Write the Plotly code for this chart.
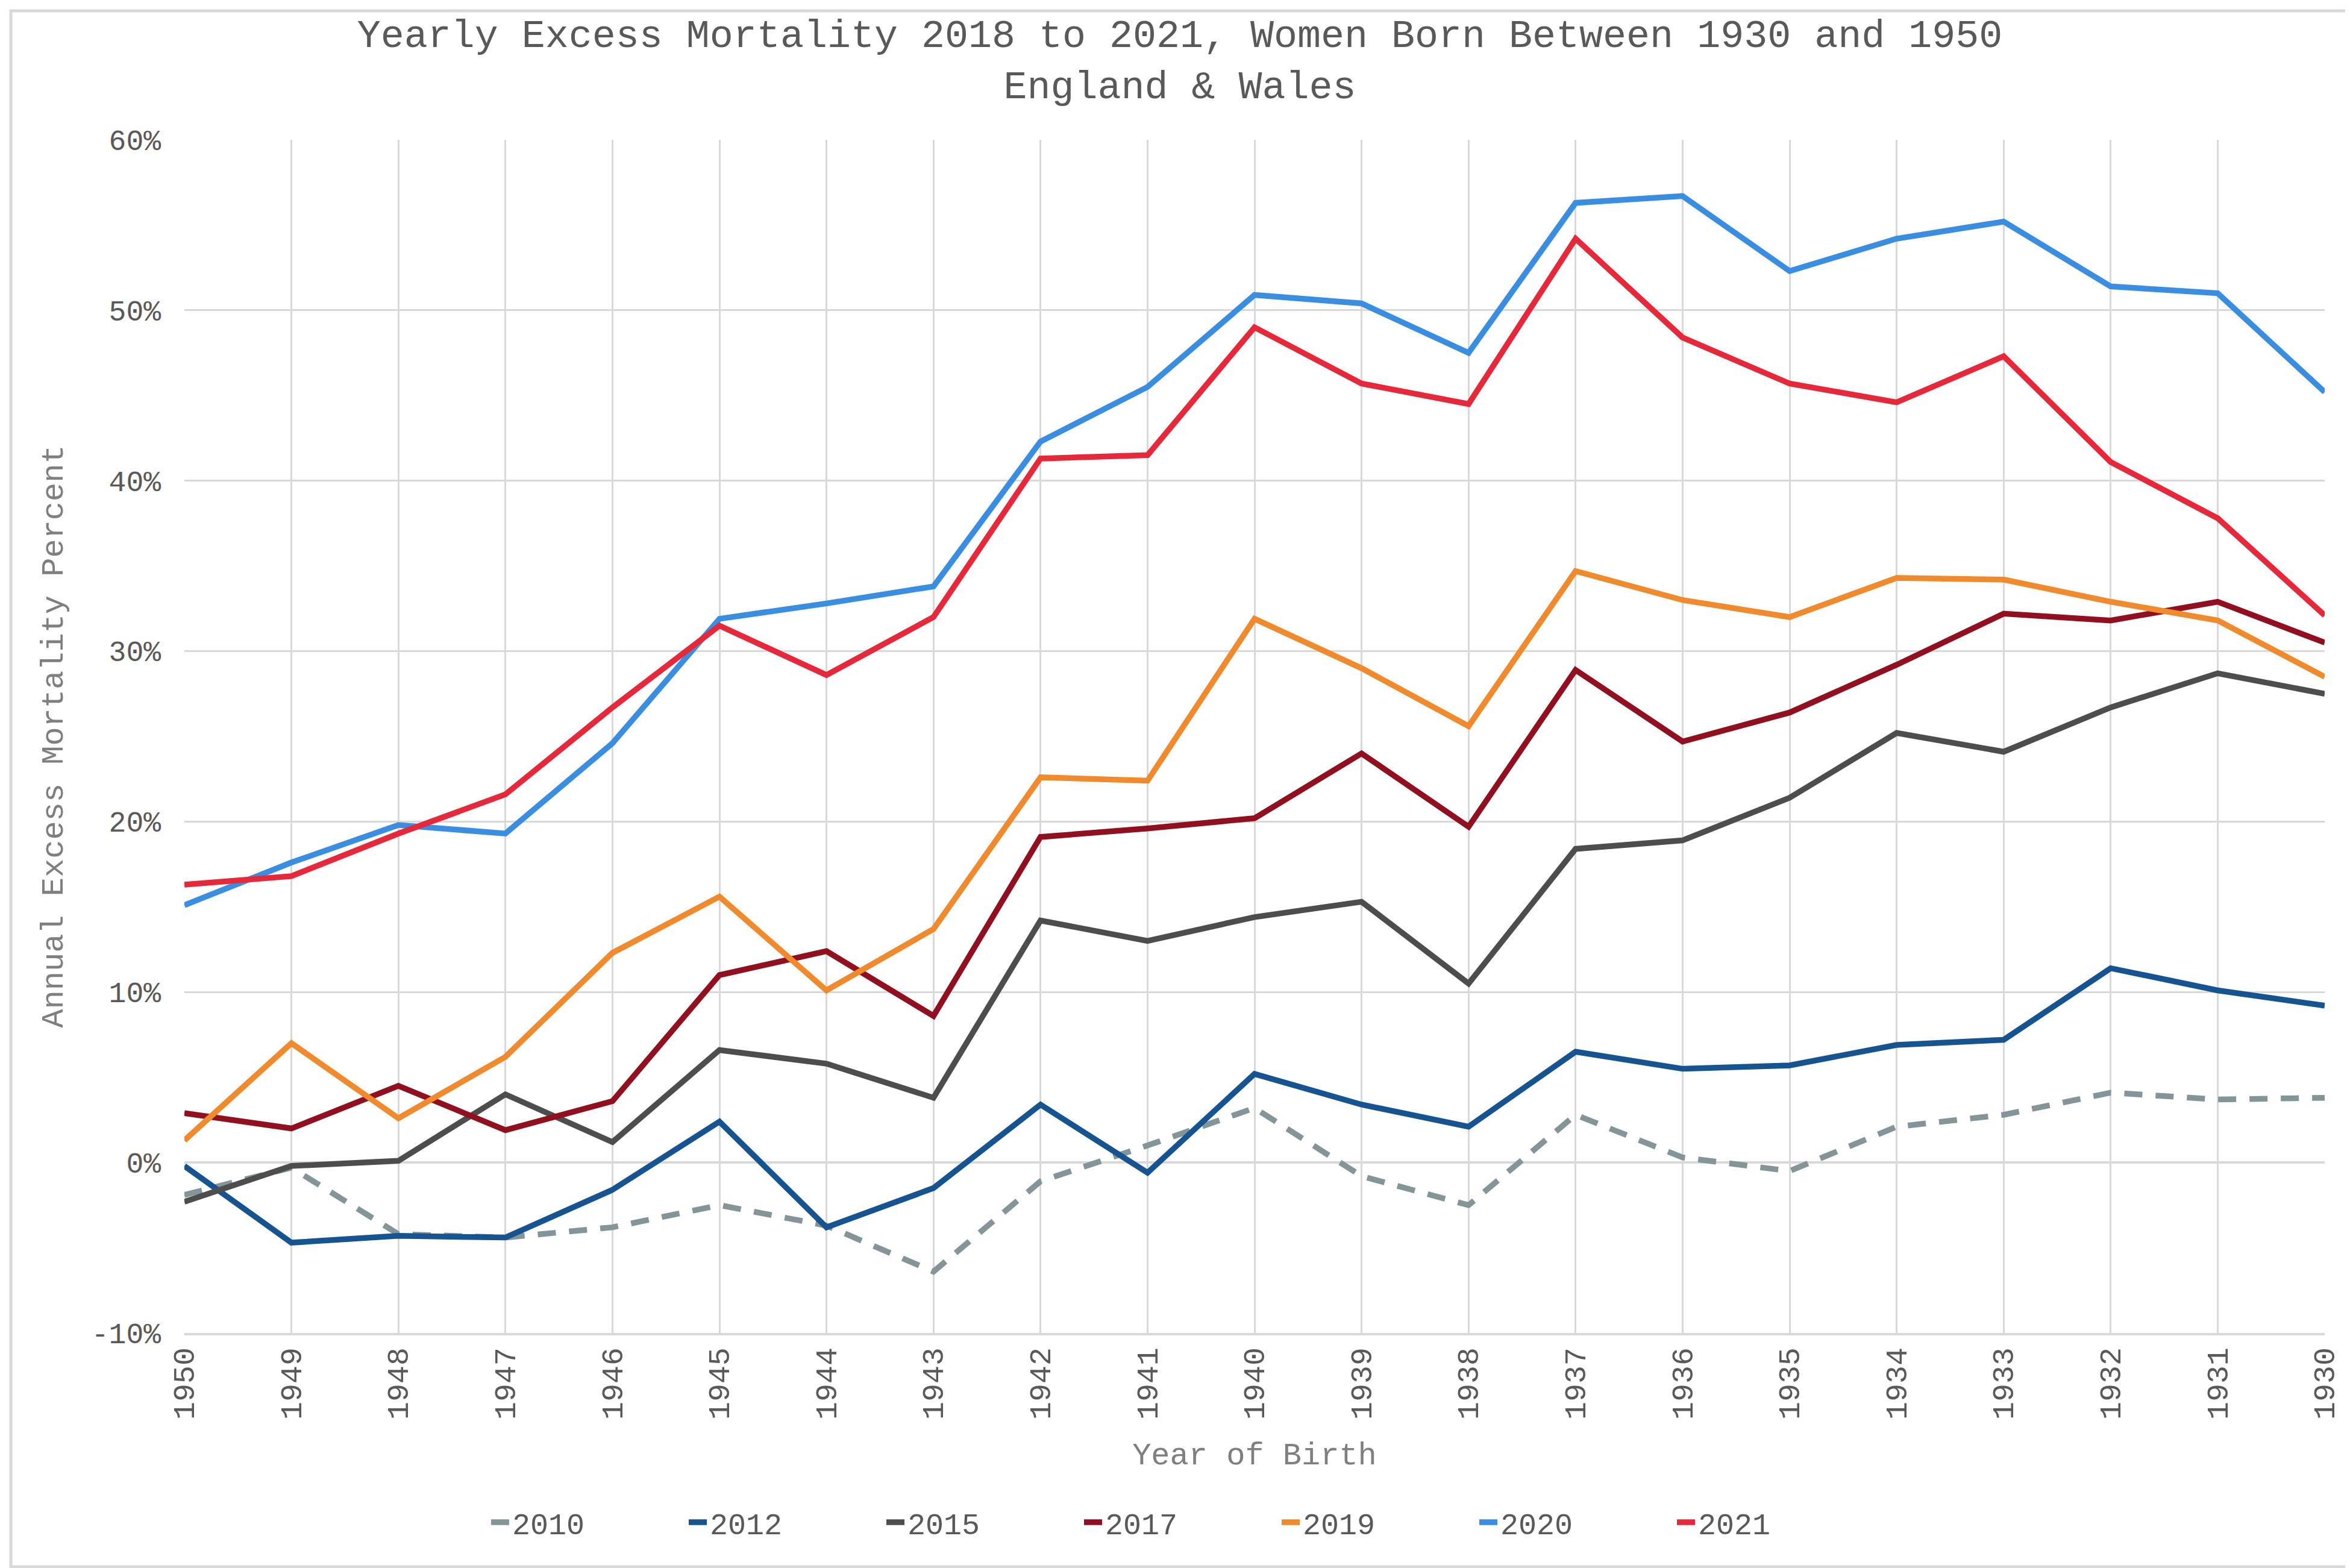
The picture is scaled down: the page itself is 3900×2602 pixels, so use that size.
import plotly.graph_objects as go

birth_years = ["1950", "1949", "1948", "1947", "1946", "1945", "1944", "1943", "1942", "1941",
               "1940", "1939", "1938", "1937", "1936", "1935", "1934", "1933", "1932", "1931", "1930"]

s2010 = [-1.9, -0.3, -4.2, -4.4, -3.8, -2.5, -3.7, -6.4, -1.1, 1.0, 3.2, -0.8, -2.5, 2.8, 0.3, -0.5, 2.1, 2.8, 4.1, 3.7, 3.8]
s2012 = [-0.2, -4.7, -4.3, -4.4, -1.6, 2.4, -3.8, -1.5, 3.4, -0.6, 5.2, 3.4, 2.1, 6.5, 5.5, 5.7, 6.9, 7.2, 11.4, 10.1, 9.2]
s2015 = [-2.3, -0.2, 0.1, 4.0, 1.2, 6.6, 5.8, 3.8, 14.2, 13.0, 14.4, 15.3, 10.5, 18.4, 18.9, 21.4, 25.2, 24.1, 26.7, 28.7, 27.5]
s2017 = [2.9, 2.0, 4.5, 1.9, 3.6, 11.0, 12.4, 8.6, 19.1, 19.6, 20.2, 24.0, 19.7, 28.9, 24.7, 26.4, 29.2, 32.2, 31.8, 32.9, 30.5]
s2019 = [1.3, 7.0, 2.6, 6.2, 12.3, 15.6, 10.1, 13.7, 22.6, 22.4, 31.9, 29.0, 25.6, 34.7, 33.0, 32.0, 34.3, 34.2, 32.9, 31.8, 28.5]
s2020 = [15.1, 17.6, 19.8, 19.3, 24.6, 31.9, 32.8, 33.8, 42.3, 45.5, 50.9, 50.4, 47.5, 56.3, 56.7, 52.3, 54.2, 55.2, 51.4, 51.0, 45.2]
s2021 = [16.3, 16.8, 19.3, 21.6, 26.7, 31.5, 28.6, 32.0, 41.3, 41.5, 49.0, 45.7, 44.5, 54.2, 48.4, 45.7, 44.6, 47.3, 41.1, 37.8, 32.1]

series_names = ["2010", "2012", "2015", "2017", "2019", "2020", "2021"]
series_values = [s2010, s2012, s2015, s2017, s2019, s2020, s2021]
series_colors = ["#84959A", "#155391", "#4D4D4D", "#910F1F", "#F08A2C", "#3A8EE2", "#E6283A"]

y_ticks = [-10, 0, 10, 20, 30, 40, 50, 60]
y_ticktext = ["-10%", "0%", "10%", "20%", "30%", "40%", "50%", "60%"]

FONT = "Liberation Mono"
W, H = 3900, 2602
ML, MR, MT, MB = 298, 50, 224, 398

fig = go.Figure()
for name, vals, col in zip(series_names, series_values, series_colors):
    fig.add_trace(go.Scatter(
        x=birth_years, y=vals, name=name, mode="lines",
        line=dict(color=col, width=9.5, dash="30px,22px" if name == "2010" else "solid"),
    ))

pw = W - ML - MR
ph = H - MT - MB
inset = 10
fig.add_shape(type="rect", xref="paper", yref="paper",
              x0=(inset - ML) / pw, x1=(W - inset - ML) / pw,
              y0=(inset - MB) / ph, y1=(H - MB - inset) / ph,
              line=dict(color="#D9D9D9", width=5), layer="below")

fig.update_layout(
    width=W, height=H,
    margin=dict(l=ML, r=MR, t=MT, b=MB),
    paper_bgcolor="white", plot_bgcolor="white",
    font=dict(family=FONT, color="#595959"),
    title=dict(
        text="Yearly Excess Mortality 2018 to 2021, Women Born Between 1930 and 1950<br>England & Wales",
        x=0.5, xref="container", xanchor="center",
        y=1 - 70 / H, yref="container", yanchor="middle",
        font=dict(family=FONT, size=65, color="#595959"),
    ),
    showlegend=True,
    legend=dict(
        orientation="h", xref="container", yref="container",
        x=0.5, xanchor="center", y=84 / H, yanchor="middle",
        font=dict(family=FONT, size=50, color="#595959"),
        entrywidth=283, entrywidthmode="pixels", tracegroupgap=0,
    ),
)

fig.update_xaxes(
    type="category", range=[0, len(birth_years) - 1],
    tickangle=-90, tickfont=dict(family=FONT, size=50, color="#595959"),
    showgrid=True, gridcolor="#D9D9D9", gridwidth=2.5,
    showline=True, linecolor="#D9D9D9", linewidth=4,
    ticks="", ticklen=0,
    title=dict(text="Year of Birth", font=dict(family=FONT, size=52, color="#7F7F7F"), standoff=40),
)
fig.update_yaxes(
    range=[-10, 60], tickvals=y_ticks, ticktext=y_ticktext,
    tickfont=dict(family=FONT, size=48, color="#595959"),
    showgrid=True, gridcolor="#D9D9D9", gridwidth=2.5,
    zeroline=True, zerolinecolor="#D9D9D9", zerolinewidth=4,
    showline=False, ticks="", ticklabelstandoff=38,
    title=dict(text="Annual Excess Mortality Percent", font=dict(family=FONT, size=52, color="#7F7F7F"), standoff=30),
)

fig.write_html("out.html")
